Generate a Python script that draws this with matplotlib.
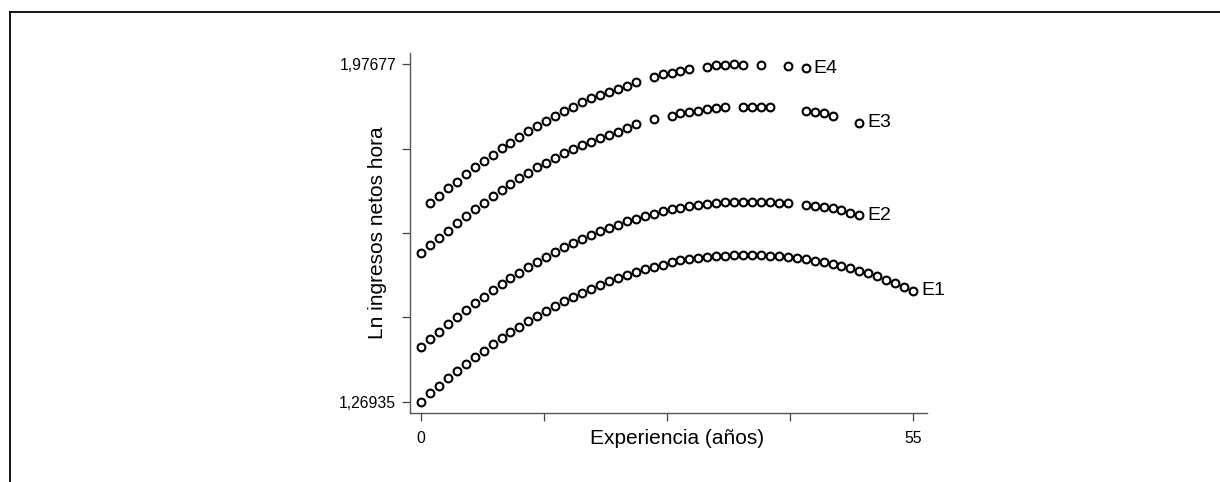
import numpy as np
import matplotlib.pyplot as plt
from matplotlib.lines import Line2D

plt.rcParams['font.family'] = ['Liberation Sans', 'DejaVu Sans']

# Ln ingresos netos hora por experiencia, cuatro niveles educativos
exp_e1 = list(range(0, 56))
val_e1 = [1.2694, 1.2869, 1.3028, 1.3182, 1.3336, 1.3482, 1.3636, 1.3762, 1.3900, 1.4032,
          1.4151, 1.4264, 1.4382, 1.4494, 1.4591, 1.4696, 1.4807, 1.4892, 1.4975, 1.5058,
          1.5136, 1.5219, 1.5288, 1.5352, 1.5414, 1.5470, 1.5520, 1.5567, 1.5617, 1.5659,
          1.5686, 1.5714, 1.5735, 1.5749, 1.5757, 1.5764, 1.5764, 1.5764, 1.5764, 1.5757,
          1.5743, 1.5728, 1.5707, 1.5679, 1.5652, 1.5617, 1.5582, 1.5539, 1.5491, 1.5442,
          1.5387, 1.5323, 1.5254, 1.5184, 1.5093, 1.5017]

exp_e2 = list(range(0, 42)) + [43, 44, 45, 46, 47, 48, 49]
val_e2 = [1.3845, 1.3999, 1.4151, 1.4319, 1.4473, 1.4613, 1.4766, 1.4892, 1.5030, 1.5157,
          1.5288, 1.5399, 1.5520, 1.5617, 1.5728, 1.5833, 1.5937, 1.6029, 1.6112, 1.6195,
          1.6273, 1.6342, 1.6406, 1.6475, 1.6531, 1.6586, 1.6636, 1.6683, 1.6726, 1.6761,
          1.6797, 1.6823, 1.6844, 1.6858, 1.6873, 1.6880, 1.6880, 1.6880, 1.6880, 1.6873,
          1.6866, 1.6858,
          1.6823, 1.6802, 1.6775, 1.6747, 1.6705, 1.6655, 1.6600]

exp_e3 = list(range(0, 25)) + [26, 28, 29, 30, 31, 32, 33, 34, 36, 37, 38, 39,
                                43, 44, 45, 46, 49]
val_e3 = [1.5818, 1.5979, 1.6120, 1.6279, 1.6434, 1.6587, 1.6728, 1.6866, 1.7006, 1.7132,
          1.7258, 1.7378, 1.7482, 1.7608, 1.7705, 1.7809, 1.7902, 1.7986, 1.8076, 1.8145,
          1.8216, 1.8285, 1.8355, 1.8426, 1.8516,
          1.8615, 1.8684, 1.8740, 1.8774, 1.8795, 1.8824, 1.8845, 1.8866,
          1.8879, 1.8879, 1.8872, 1.8862,
          1.8795, 1.8761, 1.8740, 1.8684, 1.8543]

exp_e4 = list(range(1, 25)) + [26, 27, 28, 29, 30, 32, 33, 34, 35, 36, 38, 41, 43]
val_e4 = [1.6853, 1.7006, 1.7168, 1.7306, 1.7461, 1.7608, 1.7747, 1.7872, 1.8019, 1.8124,
          1.8250, 1.8369, 1.8474, 1.8585, 1.8690, 1.8789, 1.8879, 1.8977, 1.9055, 1.9124,
          1.9181, 1.9244, 1.9313, 1.9390,
          1.9508, 1.9558, 1.9592, 1.9627, 1.9669,
          1.9717, 1.9747, 1.9760, 1.9768, 1.9760,
          1.9753, 1.9732, 1.9684]

series = [('E1', exp_e1, val_e1), ('E2', exp_e2, val_e2),
          ('E3', exp_e3, val_e3), ('E4', exp_e4, val_e4)]

ymin_lab = '1,26935'
ymax_lab = '1,97677'
ylo, yhi = 1.26935, 1.97677

fig = plt.figure(figsize=(12.2, 4.82), dpi=100)
ax = fig.add_axes([0.3361, 0.1432, 0.4238, 0.7469])

for name, xs, ys in series:
    ax.plot(xs, ys, 'o', ms=5.6, mfc='white', mec='black', mew=1.5, ls='none')
    ax.text(xs[-1] + 0.9, ys[-1], name, ha='left', va='center', fontsize=14)

ax.set_xlim(-1.23, 56.57)
ax.set_ylim(1.2457, 2.0005)

ax.set_xticks(np.linspace(0, 55, 5))
ax.set_xticklabels(['0', '', '', '', '55'])
ax.set_yticks(np.linspace(ylo, yhi, 5))
ax.set_yticklabels([ymin_lab, '', '', '', ymax_lab])

for s in ['top', 'right']:
    ax.spines[s].set_visible(False)
for s in ['left', 'bottom']:
    ax.spines[s].set_color('#555555')
    ax.spines[s].set_linewidth(1.0)
ax.tick_params(axis='both', direction='out', length=6, width=0.9,
               colors='#444444', labelcolor='black', labelsize=11.3, pad=4)
ax.tick_params(axis='x', pad=7)

ax.set_xlabel('Experiencia (años)', fontsize=15)
ax.xaxis.set_label_coords(0.516, -0.045)
ax.set_ylabel('Ln ingresos netos hora', fontsize=15)
ax.yaxis.set_label_coords(-0.045, 0.5)

# marco exterior (solo izquierda y arriba visibles)
fig.add_artist(Line2D([10/1220, 10/1220], [0, 1 - 12/482], transform=fig.transFigure,
                      color='black', lw=1.3))
fig.add_artist(Line2D([10/1220, 1], [1 - 12/482, 1 - 12/482], transform=fig.transFigure,
                      color='black', lw=1.3))

fig.savefig('out.png', dpi=100)
